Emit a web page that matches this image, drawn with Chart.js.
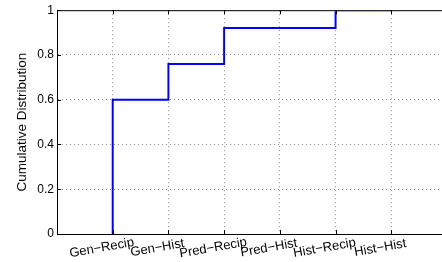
<!DOCTYPE html>
<html>
<head>
<meta charset="utf-8">
<script src="https://cdn.jsdelivr.net/npm/chart.js@4.4.1/dist/chart.umd.min.js"></script>
<style>
  html, body { margin: 0; padding: 0; background: #fff; overflow: hidden; }
  #wrap { width: 450px; height: 262px; }
</style>
</head>
<body>
<div id="wrap"><canvas id="c" width="450" height="262"></canvas></div>
<script>
const categories = ['Gen−Recip', 'Gen−Hist', 'Pred−Recip', 'Pred−Hist', 'Hist−Recip', 'Hist−Hist'];
const cdfValues = [0.6, 0.76, 0.92, 0.92, 1, 1];
const yTicks = [0, 0.2, 0.4, 0.6, 0.8, 1];
const yTickLabels = ['0', '0.2', '0.4', '0.6', '0.8', '1'];

const FONT = '"Liberation Sans", Arial, Helvetica, sans-serif';

// stairs start from zero at the first category
const points = [{x: 1, y: 0}];
categories.forEach((c, i) => points.push({x: i + 1, y: cdfValues[i]}));

// matlab style: inward ticks, top box line, rotated category labels
const matlabAxes = {
  id: 'matlabAxes',
  afterDraw(chart) {
    const {ctx, chartArea: a, scales: {x, y}} = chart;
    ctx.save();
    ctx.strokeStyle = '#000';
    ctx.lineWidth = 1;
    ctx.beginPath();
    ctx.moveTo(a.left, a.top + 0.5);
    ctx.lineTo(a.right, a.top + 0.5);
    for (let i = 1; i <= categories.length; i++) {
      const px = Math.round(x.getPixelForValue(i)) + 0.5;
      ctx.moveTo(px, a.bottom);
      ctx.lineTo(px, a.bottom - 4);
      ctx.moveTo(px, a.top);
      ctx.lineTo(px, a.top + 4);
    }
    yTicks.forEach(v => {
      const py = Math.round(y.getPixelForValue(v)) + 0.5;
      ctx.moveTo(a.left, py);
      ctx.lineTo(a.left + 4, py);
    });
    ctx.stroke();

    ctx.fillStyle = '#000';
    ctx.font = '13px ' + FONT;
    ctx.textAlign = 'center';
    ctx.textBaseline = 'middle';
    categories.forEach((c, i) => {
      ctx.save();
      ctx.translate(x.getPixelForValue(i + 1) - 11, 248);
      ctx.rotate(-10 * Math.PI / 180);
      ctx.fillText(c, 0, 0);
      ctx.restore();
    });
    ctx.restore();
  }
};

const config = {
  type: 'line',
  data: {
    datasets: [{
      label: 'CDF',
      data: points,
      borderColor: '#0000ff',
      borderWidth: 2,
      pointRadius: 0,
      stepped: 'before',
      fill: false,
      clip: { left: 0, top: -1, right: 0, bottom: 0 }
    }]
  },
  options: {
    responsive: false,
    animation: false,
    layout: { padding: { top: 9, right: 3, left: 0, bottom: 0 } },
    plugins: { legend: { display: false }, tooltip: { enabled: false } },
    scales: {
      x: {
        type: 'linear',
        min: 0,
        max: 7,
        ticks: { stepSize: 1, display: false },
        grid: { color: 'rgba(0,0,0,0.45)', drawTicks: false },
        border: { color: '#000', width: 1, dash: [1, 3] },
        afterFit: s => { s.height = 28; }
      },
      y: {
        min: 0,
        max: 1,
        afterBuildTicks: s => { s.ticks = yTicks.map(v => ({value: v})); },
        ticks: {
          color: '#000',
          font: { family: FONT, size: 12 },
          padding: 3,
          callback: (v, i) => yTickLabels[i]
        },
        grid: { color: 'rgba(0,0,0,0.45)', drawTicks: false },
        border: { color: '#000', width: 1, dash: [1, 3] },
        title: {
          display: true,
          text: 'Cumulative Distribution',
          color: '#000',
          font: { family: FONT, size: 13.5 },
          padding: { top: 14, bottom: 0 }
        },
        afterFit: s => { s.width = 57; }
      }
    }
  },
  plugins: [matlabAxes]
};

const myChart = new Chart(document.getElementById('c'), config);
</script>
</body>
</html>
